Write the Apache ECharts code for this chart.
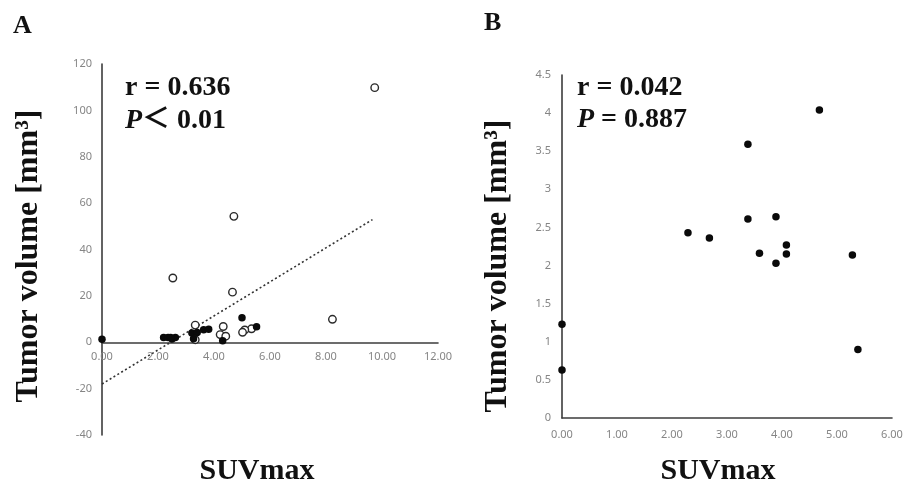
<!DOCTYPE html>
<html>
<head>
<meta charset="utf-8">
<script src="https://cdn.jsdelivr.net/npm/echarts@6/dist/echarts.min.js"></script>
<style>
html,body{margin:0;padding:0;background:#fff;}
#chart{width:909px;height:488px;}
</style>
</head>
<body>
<div id="chart"></div>
<script>
// ---- Data ----
// Panel A: SUVmax vs tumor volume
var openA = [[9.74,109.8],[4.71,54.3],[2.53,27.7],[4.66,21.6],[8.23,9.9],[5.34,5.8],[5.10,5.3],[5.02,4.3],[4.33,6.8],[4.22,3.3],[4.42,2.6],[3.33,7.4],[3.33,1.1]];
var filledA = [[0,1.3],[5.0,10.6],[5.52,6.7],[4.31,0.6],[3.21,4.0],[3.27,1.5],[3.40,4.2],[3.63,5.4],[3.81,5.6],[2.20,2.0],[2.36,2.0],[2.50,1.4],[2.62,2.0],[2.45,2.1]];
var trendA = [[0,-18],[9.66,52.9]];
// Panel B
var filledB = [[0,1.23],[0,0.63],[2.29,2.43],[2.68,2.36],[3.38,3.59],[3.38,2.61],[3.59,2.16],[3.89,2.64],[3.89,2.03],[4.08,2.27],[4.08,2.15],[4.68,4.04],[5.28,2.14],[5.38,0.90]];
// Axis ranges / ticks
var xA = {min:0, max:12, interval:2};
var yA = {min:-40, max:120, interval:20};
var xB = {min:0, max:6, interval:1};
var yB = {min:0, max:4.5, interval:0.5};
// Texts
var statsA = ['r = 0.636', 'P', '＜ 0.01'];
var statsB = ['r = 0.042', 'P', ' = 0.887'];
var yTitle = 'Tumor volume [mm³]';
var xTitle = 'SUVmax';

var serif = '"Liberation Serif","Times New Roman",serif';
var axisLineStyle = {color:'#3c3c3c', width:1.6};
var labelStyle = {color:'#858585', fontSize:11, fontFamily:'"Noto Sans","Open Sans",sans-serif'};

var gridA = {left:102, top:64, width:336, height:371};
var gridB = {left:562, top:75, width:330, height:343};
// pixel shift that puts panel A's x axis on the y = 0 line
var zeroShiftA = -gridA.height * (0 - yA.min) / (yA.max - yA.min);

function xAxisCfg(r, gi, margin, offset){
  return {type:'value', gridIndex:gi, min:r.min, max:r.max, interval:r.interval, position:'bottom', offset:offset,
    axisLine:{show:true, onZero:false, lineStyle:axisLineStyle},
    axisTick:{show:false}, splitLine:{show:false},
    axisLabel:Object.assign({margin:margin, formatter:function(v){return v.toFixed(2);}}, labelStyle)};
}
function yAxisCfg(r, gi, margin){
  return {type:'value', gridIndex:gi, min:r.min, max:r.max, interval:r.interval,
    axisLine:{show:true, onZero:false, lineStyle:axisLineStyle},
    axisTick:{show:false}, splitLine:{show:false},
    axisLabel:Object.assign({margin:margin}, labelStyle)};
}

var chart = echarts.init(document.getElementById('chart'), null, {renderer:'canvas'});
var option = {
  backgroundColor:'#fff',
  animation:false,
  grid:[gridA, gridB],
  xAxis:[xAxisCfg(xA,0,9,zeroShiftA), xAxisCfg(xB,1,11,0)],
  yAxis:[yAxisCfg(yA,0,10), yAxisCfg(yB,1,11)],
  series:[
    {type:'line', xAxisIndex:0, yAxisIndex:0, data:trendA, symbol:'none',
     lineStyle:{type:[2,2.5], color:'#333', width:1.6}, z:1},
    {type:'scatter', xAxisIndex:0, yAxisIndex:0, data:openA, symbol:'circle', symbolSize:7.5,
     itemStyle:{color:'#fff', borderColor:'#2a2a2a', borderWidth:1.4, opacity:1}, z:3},
    {type:'scatter', xAxisIndex:0, yAxisIndex:0, data:filledA, symbol:'circle', symbolSize:7.5,
     itemStyle:{color:'#0a0a0a', opacity:1}, z:4},
    {type:'scatter', xAxisIndex:1, yAxisIndex:1, data:filledB, symbol:'circle', symbolSize:7.5,
     itemStyle:{color:'#0a0a0a', opacity:1}, z:4}
  ],
  graphic:[
    {type:'text', left:13, top:13, style:{text:'A', font:'bold 26px '+serif, fill:'#111'}},
    {type:'text', left:484, top:10, style:{text:'B', font:'bold 26px '+serif, fill:'#111'}},
    // stats A
    {type:'text', x:125, y:88, style:{text:statsA[0], font:'bold 28px '+serif, fill:'#111', verticalAlign:'middle'}},
    {type:'text', x:125, y:121, style:{text:'{i|'+statsA[1]+'}{n|'+statsA[2]+'}', verticalAlign:'middle',
      rich:{i:{font:'italic bold 28px '+serif, fill:'#111'}, n:{font:'bold 28px '+serif+',"Noto Sans CJK JP"', fill:'#111'}}}},
    // stats B
    {type:'text', x:577, y:88, style:{text:statsB[0], font:'bold 28px '+serif, fill:'#111', verticalAlign:'middle'}},
    {type:'text', x:577, y:120, style:{text:'{i|'+statsB[1]+'}{n|'+statsB[2]+'}', verticalAlign:'middle',
      rich:{i:{font:'italic bold 28px '+serif, fill:'#111'}, n:{font:'bold 28px '+serif, fill:'#111'}}}},
    // y titles
    {type:'text', x:29, y:256, rotation:Math.PI/2, style:{text:yTitle, font:'bold 32px '+serif, fill:'#111', align:'center', verticalAlign:'middle'}},
    {type:'text', x:498, y:266, rotation:Math.PI/2, style:{text:yTitle, font:'bold 32px '+serif, fill:'#111', align:'center', verticalAlign:'middle'}},
    // x titles
    {type:'text', x:257, y:471, style:{text:xTitle, font:'bold 30px '+serif, fill:'#111', align:'center', verticalAlign:'middle'}},
    {type:'text', x:718, y:471, style:{text:xTitle, font:'bold 30px '+serif, fill:'#111', align:'center', verticalAlign:'middle'}}
  ]
};
chart.setOption(option);
</script>
</body>
</html>
